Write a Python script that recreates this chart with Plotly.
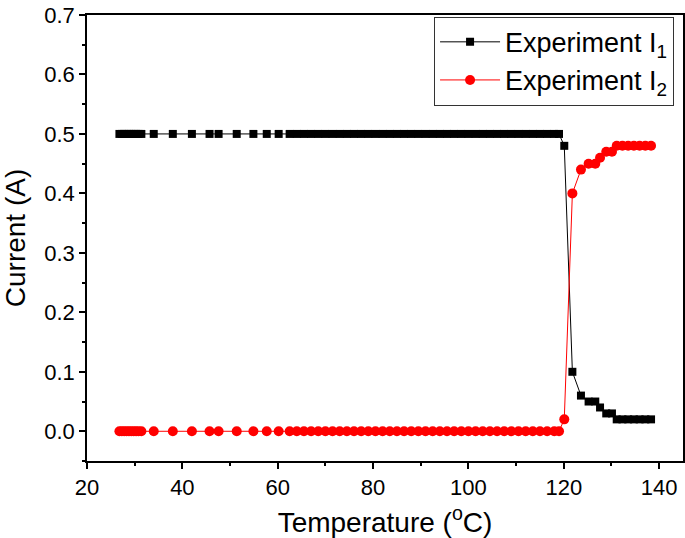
import plotly.graph_objects as go

# Temperature (°C), shared by both series
temperature_c = [26.8, 27.3, 27.8, 28.3, 28.8, 29.3, 29.8, 30.3, 30.8, 31.4,
                 34.0, 38.0, 42.0, 45.7, 47.6, 51.4, 54.9, 57.7, 60.2, 62.5, 64.0,
                 65.5, 67.0, 68.5, 70.0, 71.5, 73.0, 74.5, 76.0, 77.5, 79.0,
                 80.5, 82.0, 83.5, 85.0, 86.5, 88.0, 89.5, 91.0, 92.5, 94.0,
                 95.5, 97.0, 98.5, 100.0, 101.5, 103.0, 104.5, 106.0, 107.5, 109.0,
                 110.5, 112.0, 113.5, 115.0, 116.5, 118.0, 119.0,
                 120.1, 121.8, 123.6, 125.2, 126.6, 127.6, 128.9, 130.1, 131.1,
                 132.3, 133.5, 134.7, 135.9, 137.1, 138.3]

n_flat = 58
current_i1 = [0.5] * n_flat + [0.48, 0.10, 0.06, 0.05, 0.05, 0.04, 0.03, 0.03, 0.02,
                               0.02, 0.02, 0.02, 0.02, 0.02, 0.02]
current_i2 = [0.0] * n_flat + [0.02, 0.40, 0.44, 0.45, 0.45, 0.46, 0.47, 0.47, 0.48,
                               0.48, 0.48, 0.48, 0.48, 0.48, 0.48]

series_names = ["Experiment I<sub>1</sub>", "Experiment I<sub>2</sub>"]

FONT = "Liberation Sans, Arial, sans-serif"

fig = go.Figure()
fig.add_trace(go.Scatter(
    x=temperature_c, y=current_i1, name=series_names[0], mode="lines+markers",
    line=dict(color="#000000", width=1),
    marker=dict(symbol="square", size=8, color="#000000"),
))
fig.add_trace(go.Scatter(
    x=temperature_c, y=current_i2, name=series_names[1], mode="lines+markers",
    line=dict(color="#ff0000", width=1),
    marker=dict(symbol="circle", size=10, color="#ff0000"),
))

axis_common = dict(
    showgrid=False, zeroline=False, showline=True, linecolor="#000000",
    linewidth=1.5, mirror=True, ticks="outside", ticklen=6, tickwidth=1.5,
    tickcolor="#000000", tickfont=dict(family=FONT, size=22, color="#000000"),
    automargin=False,
)

fig.update_xaxes(
    range=[20, 145], tick0=20, dtick=20,
    minor=dict(dtick=10, ticks="outside", ticklen=3, tickwidth=1.5, tickcolor="#000000"),
    title=dict(text="Temperature (<sup>o</sup>C)", font=dict(family=FONT, size=28, color="#000000")),
    **axis_common,
)
fig.update_yaxes(
    range=[-0.05, 0.7], tick0=0, dtick=0.1, tickformat=".1f",
    minor=dict(dtick=0.05, ticks="outside", ticklen=3, tickwidth=1.5, tickcolor="#000000"),
    title=dict(text="Current (A)", font=dict(family=FONT, size=28, color="#000000")),
    **axis_common,
)

fig.update_layout(
    width=685, height=538,
    margin=dict(l=87, r=2, t=15, b=77),
    plot_bgcolor="#ffffff", paper_bgcolor="#ffffff",
    font=dict(family=FONT, color="#000000"),
    legend=dict(
        x=0.985, y=0.996, xanchor="right", yanchor="top",
        bgcolor="#ffffff", bordercolor="#333333", borderwidth=1,
        font=dict(family=FONT, size=27, color="#000000"),
        tracegroupgap=0, itemwidth=60,
    ),
)

fig.write_html("out.html", config={"displayModeBar": False},
               post_script="document.body.style.margin='0px';")
